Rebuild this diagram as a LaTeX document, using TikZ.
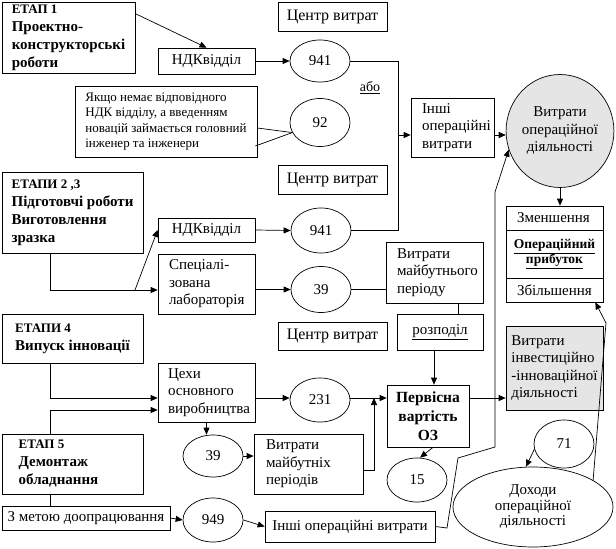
\documentclass[tikz,border=0pt]{standalone}
\usepackage{fontspec}
\setmainfont{Liberation Serif}
\usetikzlibrary{arrows.meta,shapes.geometric,calc}
\begin{document}
\begin{tikzpicture}[x=1pt,y=-1pt,
  line width=0.7pt,
  every node/.style={font=\fontsize{15}{17.5}\selectfont},
  box/.style={draw, rectangle, inner ysep=0pt, inner xsep=0pt},
  oval/.style={draw, ellipse, inner sep=0pt},
  etap/.style={font=\bfseries\fontsize{15}{18}\selectfont},
  centre/.style={box, minimum width=109pt, font=\fontsize{16}{18}\selectfont},
  arr/.style={-{Triangle[length=7pt,width=6pt]}},
  grayfill/.style={fill=gray!20}]
\useasboundingbox (0,0) rectangle (616,549);

% helper coordinates
\coordinate (c50) at (50,0);
\coordinate (r290) at (0,290);
\coordinate (r398) at (0,398);
\coordinate (r410) at (0,410);
\coordinate (bus) at (398,135);
\coordinate (jn) at (374,398);
\coordinate (ax) at (434,0);
\coordinate (br) at (135,290);
\coordinate (b1) at (447,528);
\coordinate (b2) at (458,458);
\coordinate (b3) at (495,447);
\coordinate (b4) at (495,192);
\coordinate (d1) at (606,323);

% ETAP boxes
\node[box, etap, minimum width=133pt, minimum height=71pt, align=left] (e1) at (68.5,37.5)
  {{\fontsize{13}{18}\selectfont ЕТАП 1}\\Проектно-\\конструкторські\\роботи};
\node[box, etap, minimum width=141pt, minimum height=81pt, align=left] (e23) at (72.5,212.5)
  {{\fontsize{13}{18}\selectfont ЕТАПИ 2 ,3}\\Підготовчі роботи\\Виготовлення\\зразка};
\node[box, etap, minimum width=141pt, minimum height=49pt, align=left] (e4) at (72.5,338.5)
  {{\fontsize{13}{18}\selectfont ЕТАПИ 4}\hspace*{30pt}\\Випуск інновації};
\node[box, etap, minimum width=141pt, minimum height=60pt, align=left] (e5) at (72.5,464)
  {{\fontsize{13}{18}\selectfont ЕТАП 5}\\Демонтаж\\обладнання\hspace*{28pt}};
\node[box, minimum width=168pt, minimum height=24pt, align=left] (zmet) at (86,518)
  {З метою доопрацювання};

% cost centre labels
\node[centre, minimum height=29pt] (c1) at (332.5,16.5) {Центр витрат};
\node[centre, minimum height=29pt] (c2) at (332.5,179.5) {Центр витрат};
\node[centre, minimum height=28pt] (c3) at (332.5,336) {Центр витрат};

% departments
\node[box, minimum width=97pt, minimum height=26pt] (n1) at (206.5,61) {НДКвідділ};
\node[box, minimum width=182pt, minimum height=71pt, align=left,
  font=\fontsize{13}{15.5}\selectfont] (note) at (166,121.5)
  {Якщо немає відповідного\\НДК відділу, а введенням\\новацій займається головний\\інженер та інженери};
\node[box, minimum width=97pt, minimum height=24pt] (n2) at (206.5,230) {НДКвідділ};
\node[box, text width=75pt, inner xsep=11pt, minimum height=60pt, align=left] (spec) at (206.5,284)
  {Спеціалі-\\зована\\лабораторія};
\node[box, text width=77pt, inner xsep=10pt, minimum height=59pt, align=left] (cex) at (206.5,392.5)
  {Цехи\\основного\\виробництва};

% accounts
\node[oval, minimum width=60pt, minimum height=42pt] (o941a) at (320,61) {941};
\node[oval, minimum width=60pt, minimum height=48pt] (o92) at (320,122.5) {92};
\node[oval, minimum width=60pt, minimum height=45pt] (o941b) at (321,230.5) {941};
\node[oval, minimum width=60pt, minimum height=46pt] (o39a) at (321,289.5) {39};
\node[oval, minimum width=60pt, minimum height=44pt] (o231) at (320,400) {231};
\node[oval, minimum width=60pt, minimum height=42pt] (o39b) at (213,456) {39};
\node[oval, minimum width=60pt, minimum height=44pt] (o949) at (213,520) {949};
\node[oval, minimum width=60pt, minimum height=44pt] (o15) at (417,480) {15};
\node[oval, minimum width=60pt, minimum height=48pt] (o71) at (564,444) {71};

\node[font=\fontsize{14}{16}\selectfont] (abo) at (370,88) {\underline{або}};

% right side
\node[box, text width=61pt, inner xsep=11pt, minimum height=59pt, align=left] (inshi1) at (452.5,127.5)
  {Інші\\операційні\\витрати};
\node[oval, grayfill, minimum width=106pt, minimum height=113pt, align=center] (og) at (560,131)
  {Витрати\\операційної\\діяльності};
\node[box, text width=75pt, inner xsep=11pt, minimum height=24pt, align=left] (z1) at (554.5,218) {Зменшення};
\node[box, minimum width=97pt, minimum height=48pt, align=center,
  font=\bfseries\fontsize{13.5}{14.5}\selectfont] (z2) at (554.5,254) {\underline{Операційний}\\\underline{прибуток}};
\node[box, text width=75pt, inner xsep=11pt, minimum height=24pt, align=left] (z3) at (554.5,290) {Збільшення};

\node[box, text width=75pt, inner xsep=11pt, minimum height=61pt, align=left] (vmp) at (434.5,272.5)
  {Витрати\\майбутнього\\періоду};
\node[box, minimum width=86pt, minimum height=36pt] (rozp) at (440,332) {\underline{розподіл}};
\node[box, minimum width=82pt, minimum height=62pt, align=center,
  font=\bfseries\fontsize{15.5}{19}\selectfont] (perv) at (428,416) {Первісна\\вартість\\ОЗ};
\node[box, grayfill, minimum width=97pt, minimum height=84pt, align=left] (inv) at (554.5,368)
  {Витрати\\інвестиційно\\-інноваційної\\діяльності};
\node[box, text width=85pt, inner xsep=12pt, minimum height=60pt, align=left] (vmp2) at (308.5,464)
  {Витрати\\майбутніх\\періодів};
\node[box, minimum width=170pt, minimum height=31pt] (inshi2) at (350,526.5) {Інші операційні витрати};
\node[oval, minimum width=160pt, minimum height=80pt, align=center,
  font=\fontsize{15}{15.5}\selectfont] (doh) at (533,507) {Доходи\\операційної\\діяльності};

% connectors: stage 1
\draw[arr] ($(e1.north east)+(0,12)$) -- (n1.north);
\draw[arr] (n1.east) -- (o941a.west);
\draw ($(note.east)+(0,6.5)$) -- (o92.200);
\draw ($(note.east)+(-2,24.5)$) -- (o92.200);
\draw (o941a.east) -| (bus);
\draw (o941b.east) -| (bus);
\draw[arr] (bus) -- (bus -| inshi1.west);
\draw[arr] (inshi1.east |- bus) -- (og.west |- bus);
\draw[arr] (og.south) -- (og.south |- z1.north);

% stages 2,3
\draw[arr] (e23.south -| c50) |- (r290 -| spec.west);
\draw[arr] (br) -- (n2.west);
\draw[arr] (n2.east) -- (o941b.west);
\draw[arr] (o39a.west -| spec.east) -- (o39a.west);
\draw (o39a.east) -- (o39a.east -| vmp.west);
\draw ($(vmp.south)+(23.5,0)$) -- ($(rozp.north)+(18,0)$);
\draw[arr] (rozp.south -| ax) -- (perv.north -| ax);

% stage 4
\draw[arr] (e4.south -| c50) |- (r398 -| cex.west);
\draw[arr] (e5.north -| c50) |- (r410 -| cex.west);
\draw[arr] (r398 -| cex.east) -- (r398 -| o231.west);
\draw[arr] (r398 -| o231.east) -- (r398 -| perv.west);
\draw[arr] ($(vmp2.east)+(0,6)$) -| (jn);
\draw[arr] (cex.south) -- (cex.south |- o39b.north);
\draw[arr] (o39b.east) -- (o39b.east -| vmp2.west);
\draw[arr] ($(perv.south)+(5,0)$) -- ($(o15.north)+(3,0)$);
\draw[arr] (r398 -| perv.east) -- (r398 -| inv.west);

% stage 5
\draw (e5.south -| c50) -- (zmet.north -| c50);
\draw[arr] (zmet.east) -- (o949.west);
\draw[arr] (o949.east) -- (inshi2.west);
\draw[arr] (inshi2.east) -- (b1) -- (b2) -- (b3) -- (b4) -- (og.200);

% income
\draw[arr] (o71.190) -- (doh.100);
\draw[arr] (doh.24) -- (d1) -- ($(z3.south east)+(-8,0)$);
\end{tikzpicture}
\end{document}
